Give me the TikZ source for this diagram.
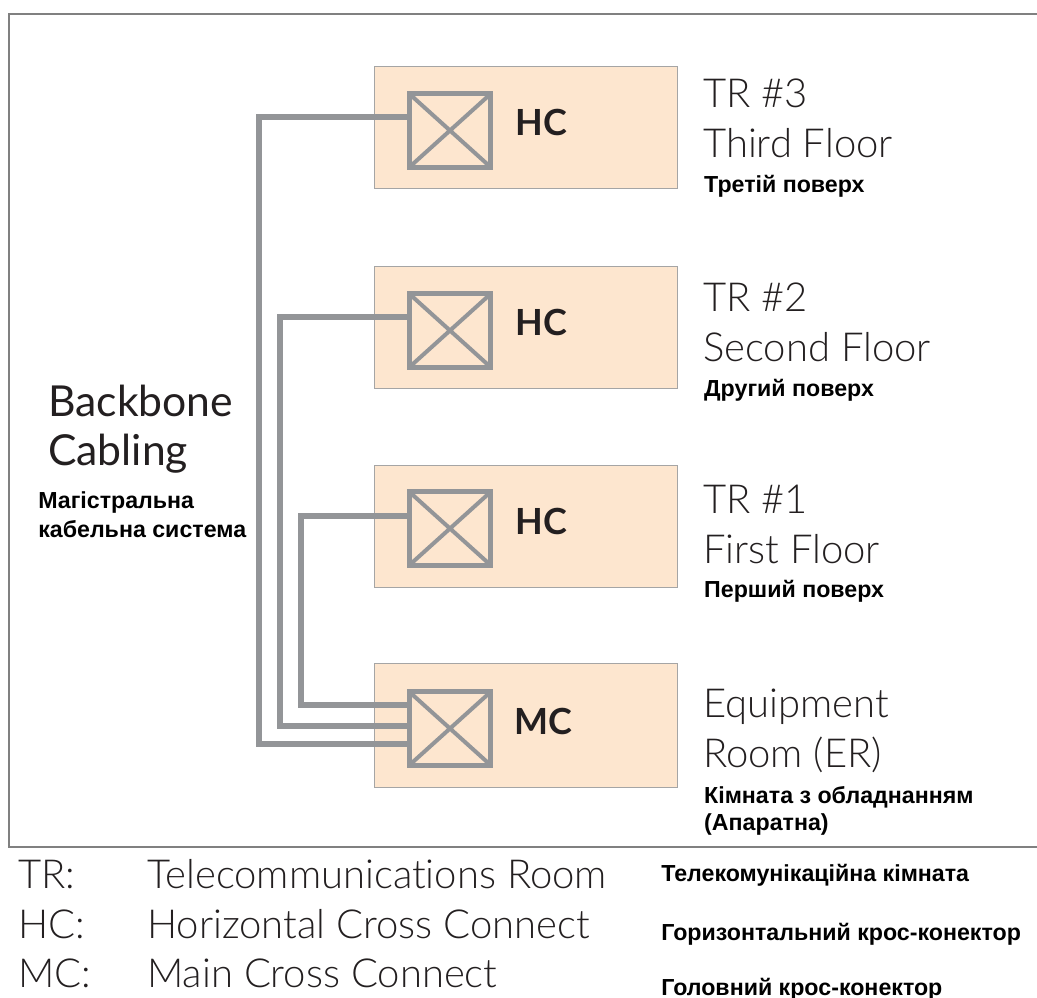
\documentclass[tikz,border=0pt]{standalone}
\usepackage{fontspec}
\setmainfont{Liberation Sans}
\newfontfamily\thinfont{Lato}[UprightFont={* Light}, Ligatures=NoCommon]
\newfontfamily\geofont{Lato}[Ligatures=NoCommon]
\newfontfamily\boldgeo{Lato}[UprightFont={* Bold}]
\definecolor{roomfill}{RGB}{253,230,207}
\definecolor{cablegray}{RGB}{147,149,152}
\definecolor{edgegray}{RGB}{165,165,165}
\definecolor{framegray}{RGB}{128,128,128}
\definecolor{inkdark}{RGB}{35,31,32}
\usetikzlibrary{positioning,calc}

\begin{document}
\begin{tikzpicture}[
        x=0.75pt, y=-0.75pt,
        room/.style={rectangle, draw=edgegray, fill=roomfill, line width=0.9pt, minimum width=227pt, minimum height=91.5pt},
        xconn/.style={rectangle, draw=cablegray, line width=3.75pt, minimum width=61pt, minimum height=55pt,
            path picture={\draw[cablegray, line width=3pt]
                (path picture bounding box.north west) -- (path picture bounding box.south east)
                (path picture bounding box.south west) -- (path picture bounding box.north east);}},
        cable/.style={draw=cablegray, line width=4.5pt},
        tag/.style={font=\boldgeo\fontsize{27}{30}\selectfont, text=inkdark, anchor=base, inner sep=0pt},
        lbl/.style={font=\thinfont\fontsize{30}{34}\selectfont, text=inkdark, anchor=base west, inner sep=0pt},
        ukr/.style={font=\bfseries\fontsize{17.4}{20}\selectfont, text=black, anchor=base west, inner sep=0pt}
    ]
        \useasboundingbox (0,0) rectangle (1037,997);

        % Frame
        \draw[framegray, line width=1.5pt] (1040,14) -- (9,14) -- (9,847) -- (1040,847);

        % Rooms
        \node[room] (room3) at (526,127.5) {};
        \node[room] (room2) at (526,327.5) {};
        \node[room] (room1) at (526,526.5) {};
        \node[room, minimum height=93pt] (er) at (526,725.5) {};

        % Cross connects
        \node[xconn] (hc3) at ($(room3)+(-76,3)$) {};
        \node[xconn] (hc2) at ($(room2)+(-76,3)$) {};
        \node[xconn] (hc1) at ($(room1)+(-76,2)$) {};
        \node[xconn] (mc) at ($(er)+(-76,3)$) {};

        \node[tag] (hc3tag) at ($(room3)+(15.5,7.5)$) {HC};
        \node[tag] (hc2tag) at ($(room2)+(15.5,8)$) {HC};
        \node[tag] (hc1tag) at ($(room1)+(15.5,8)$) {HC};
        \node[tag] (mctag) at ($(er)+(17,9)$) {MC};

        % Backbone cables
        \draw[cable] ($(hc3.west)+(0,-14)$) -- ++(-148,0) |- ($(mc.west)+(0,15.5)$);
        \draw[cable] ($(hc2.west)+(0,-14)$) -- ++(-127,0) |- ($(mc.west)+(0,-2.5)$);
        \draw[cable] ($(hc1.west)+(0,-13)$) -- ++(-106,0) |- ($(mc.west)+(0,-24)$);

        % Room labels
        \node[lbl] (tr3) at ($(room3.east)+(25,-20.5)$) {TR \#3};
        \node[lbl] (fl3) at ($(tr3.base west)+(0,50)$) {Third Floor};
        \node[ukr] (ua3) at ($(fl3.base west)+(1,35)$) {Третій поверх};

        \node[lbl] (tr2) at ($(room2.east)+(25,-16.5)$) {TR \#2};
        \node[lbl] (fl2) at ($(tr2.base west)+(0,50)$) {Second Floor};
        \node[ukr] (ua2) at ($(fl2.base west)+(1,35)$) {Другий поверх};

        \node[lbl] (tr1) at ($(room1.east)+(25,-13)$) {TR \#1};
        \node[lbl] (fl1) at ($(tr1.base west)+(0,50)$) {First Floor};
        \node[ukr] (ua1) at ($(fl1.base west)+(1,34)$) {Перший поверх};

        \node[lbl] (eq) at ($(er.east)+(25,-8.5)$) {Equipment};
        \node[lbl] (eqroom) at ($(eq.base west)+(0,50)$) {Room (ER)};
        \node[ukr] (ua0) at ($(eqroom.base west)+(1,36)$) {Кімната з обладнанням};
        \node[ukr] (ua0b) at ($(ua0.base west)+(0,27)$) {(Апаратна)};

        % Backbone label
        \node[lbl, font=\geofont\fontsize{32}{36}\selectfont] (bb) at (48,416) {Backbone};
        \node[lbl, font=\geofont\fontsize{32}{36}\selectfont] (bbc) at ($(bb.base west)+(0,49)$) {Cabling};
        \node[ukr] (bbua) at (38,508) {Магістральна};
        \node[ukr] (bbua2) at ($(bbua.base west)+(0,29)$) {кабельна система};

        % Legend
        \node[lbl] (kTR) at (18,888) {TR:};
        \node[lbl] (vTR) at (147,888) {Telecommunications Room};
        \node[lbl] (kHC) at (18,938) {HC:};
        \node[lbl] (vHC) at (147,938) {Horizontal Cross Connect};
        \node[lbl] (kMC) at (18,987) {MC:};
        \node[lbl] (vMC) at (147,987) {Main Cross Connect};
        \node[ukr] (uTR) at (661,881) {Телекомунікаційна кімната};
        \node[ukr] (uHC) at (661,940) {Горизонтальний крос-конектор};
        \node[ukr] (uMC) at (661,995) {Головний крос-конектор};
    \end{tikzpicture}
\end{document}
